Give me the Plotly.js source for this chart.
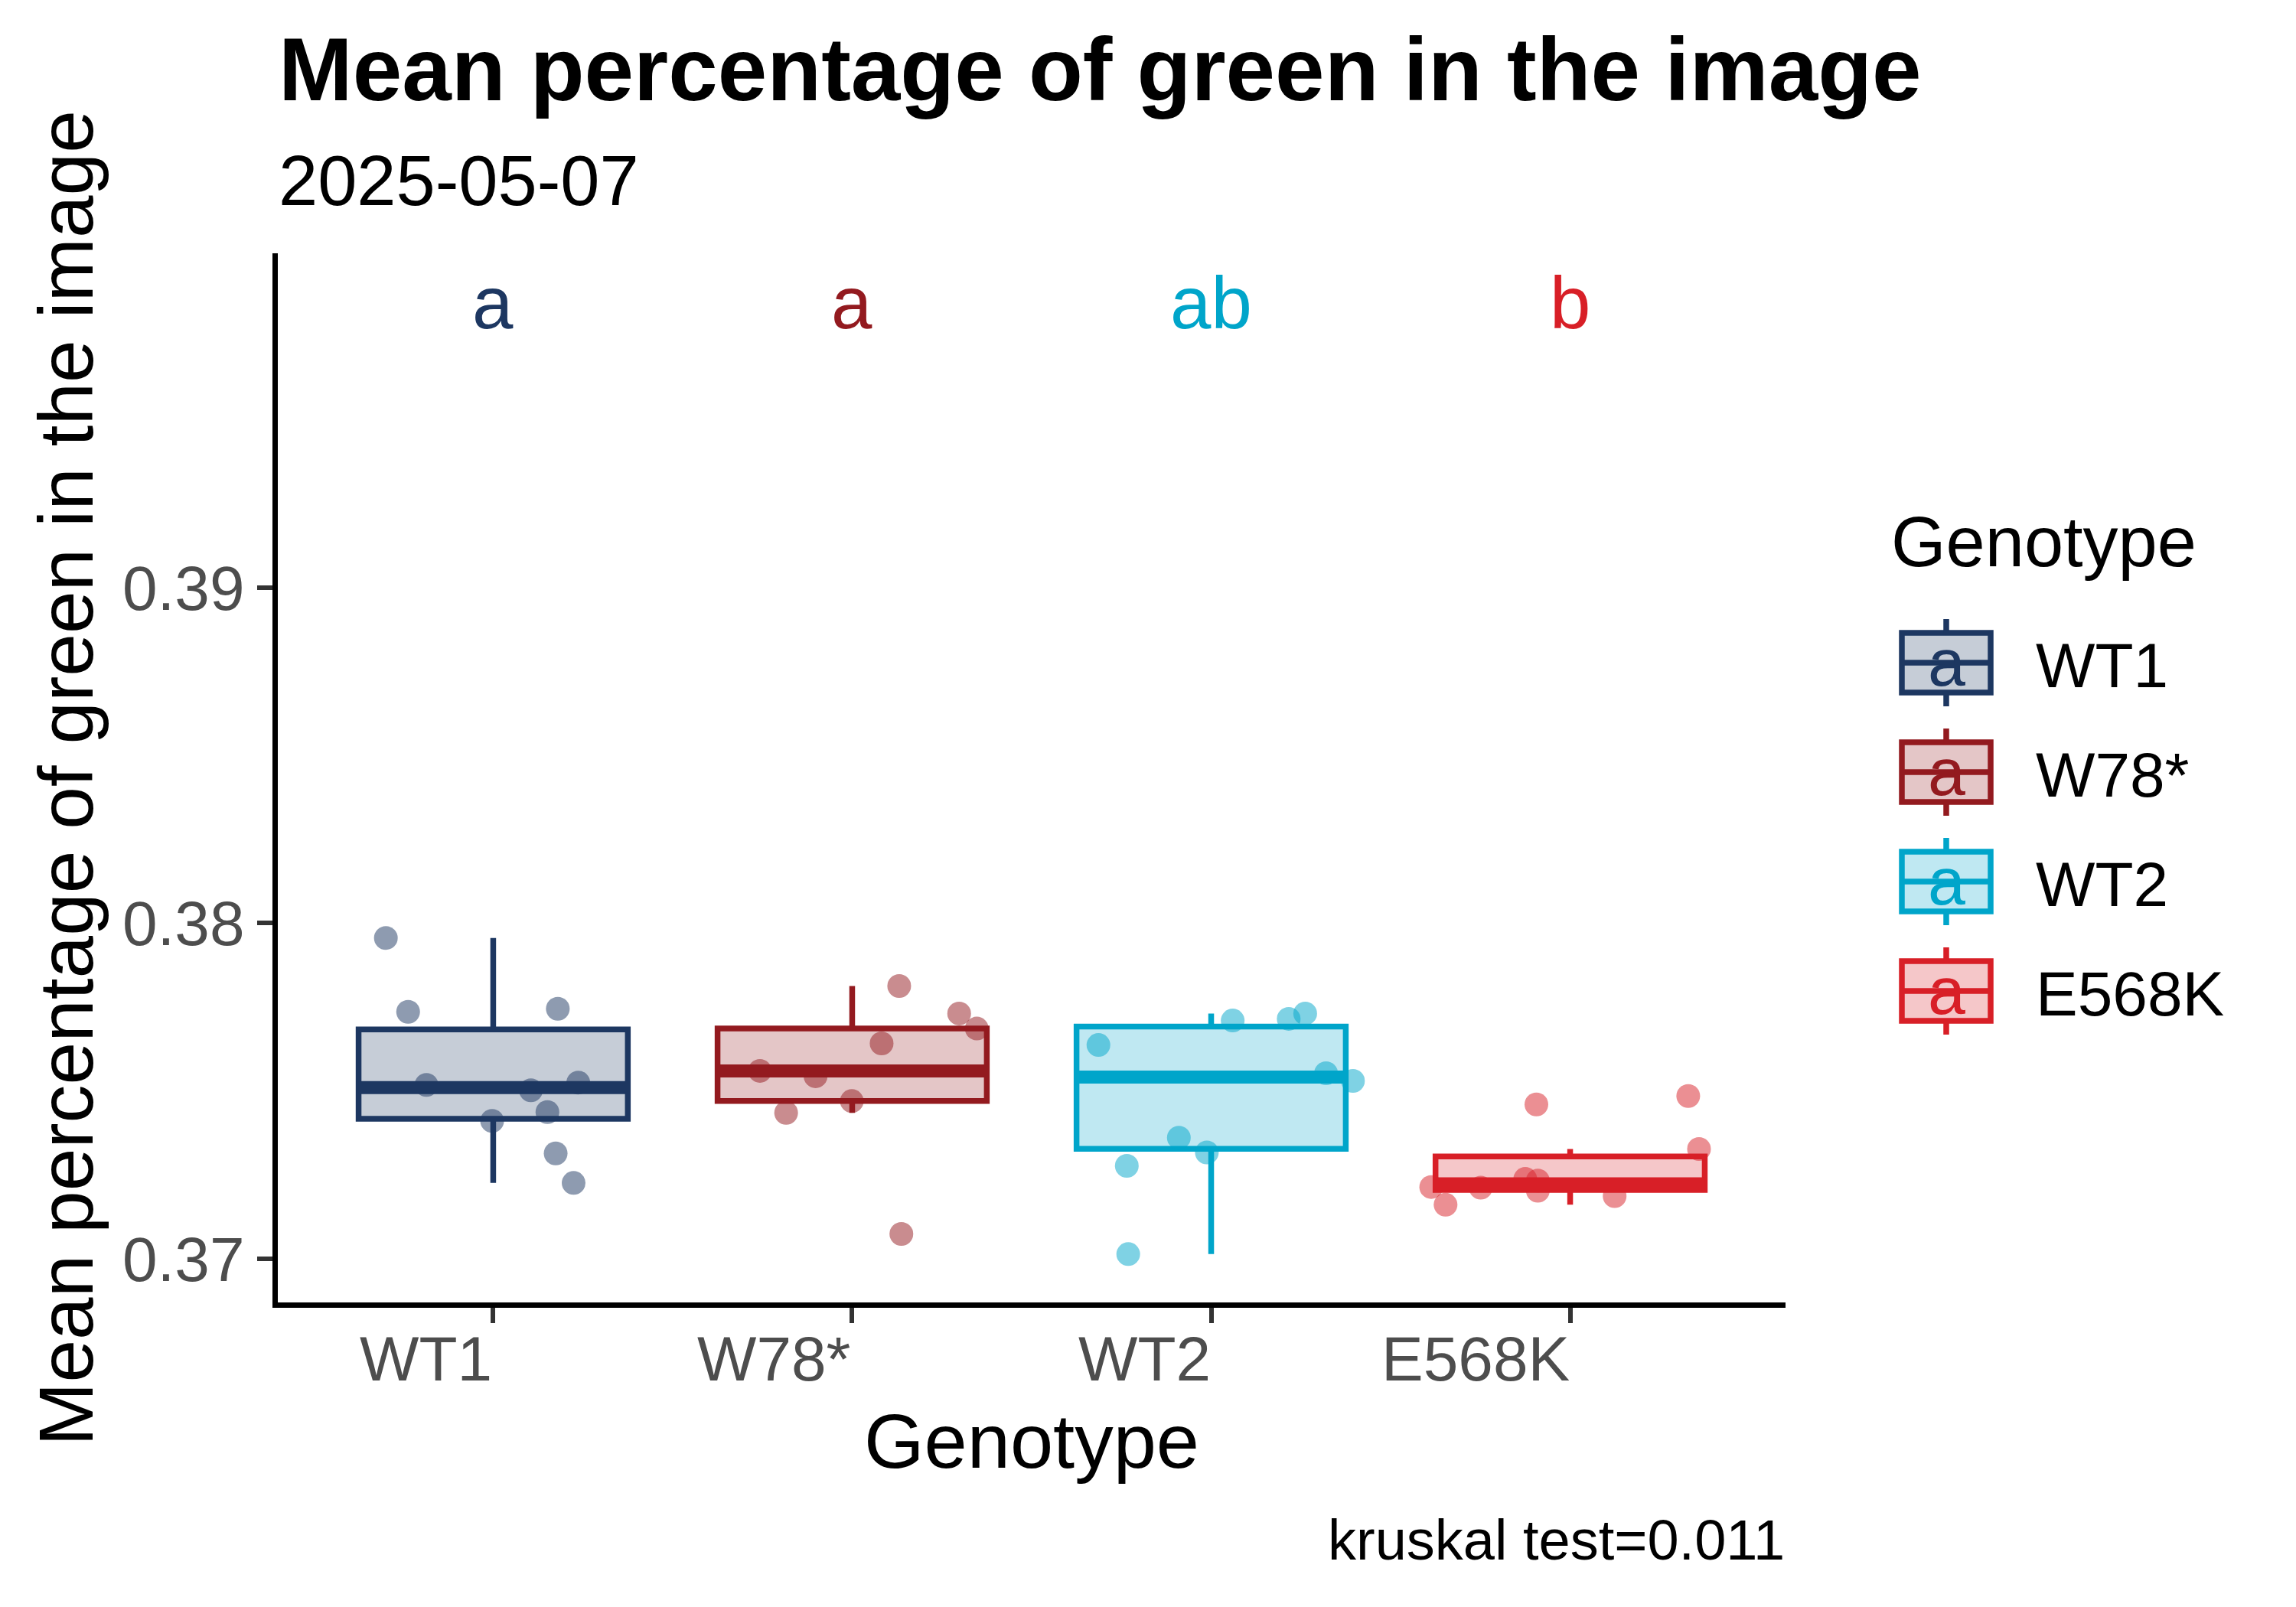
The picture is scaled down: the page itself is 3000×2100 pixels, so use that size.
<!DOCTYPE html>
<html>
<head>
<meta charset="utf-8">
<script src="https://cdn.plot.ly/plotly-3.0.1.min.js"></script>
<style>
  html, body { margin: 0; padding: 0; background: #fff; }
  #chart { width: 3000px; height: 2100px; }
</style>
</head>
<body>
<div id="chart"></div>
<script>
// ── Data ────────────────────────────────────────────────────────────────
const genotypes   = ['WT1', 'W78*', 'WT2', 'E568K'];
const groupColors = ['#1D3761', '#931A1F', '#00A5CA', '#D81F27'];
const cldLetters  = ['a', 'a', 'ab', 'b'];

const wt1Values   = [0.37956, 0.37736, 0.37745, 0.37518, 0.37502, 0.37525, 0.37411, 0.37437, 0.37314, 0.37226];
const wt1Jitter   = [-0.299, -0.237, 0.180, -0.186, 0.105, 0.237, -0.003, 0.151, 0.174, 0.224];

const w78Values   = [0.37813, 0.37731, 0.37686, 0.37642, 0.37560, 0.37544, 0.37470, 0.37435, 0.37074];
const w78Jitter   = [0.131, 0.298, 0.347, 0.082, -0.257, -0.102, -0.001, -0.184, 0.137];

const wt2Values   = [0.37637, 0.37710, 0.37715, 0.37731, 0.37553, 0.37530, 0.37361, 0.37317, 0.37277, 0.37014];
const wt2Jitter   = [-0.314, 0.060, 0.216, 0.262, 0.320, 0.395, -0.090, -0.012, -0.235, -0.231];

const e568kValues = [0.37460, 0.37485, 0.37327, 0.37214, 0.37161, 0.37212, 0.37238, 0.37233, 0.37203, 0.37187];
const e568kJitter = [-0.094, 0.329, 0.359, -0.387, -0.347, -0.249, -0.125, -0.090, -0.090, 0.124];

const yTickVals = [0.37, 0.38, 0.39];
const yTickText = ['0.37', '0.38', '0.39'];

const titleText    = 'Mean percentage of green in the image';
const subtitleText = '2025-05-07';
const yTitleText   = 'Mean percentage of green in the image';
const xTitleText   = 'Genotype';
const legendTitle  = 'Genotype';
const captionText  = 'kruskal test=0.011';
const keyGlyph     = 'a';

const groupValues = [wt1Values, w78Values, wt2Values, e568kValues];
const groupJitter = [wt1Jitter, w78Jitter, wt2Jitter, e568kJitter];

// ── Layout geometry (pixels in the 3000x2100 page) ────────────────────────
const W = 3000, H = 2100;
const P = { l: 363, r: 2333, t: 331, b: 1702 };
const FONT = '"Liberation Sans", Arial, sans-serif';
const BOX_W = 0.75;

const px2x = p => (p - P.l) / (P.r - P.l);
const px2y = p => (P.b - p) / (P.b - P.t);
// centre of a one-line text box given its baseline and font size
const mid = (base, size) => base - 0.3465 * size;

function rgba(hex, a) {
    const n = parseInt(hex.slice(1), 16);
    return `rgba(${(n >> 16) & 255},${(n >> 8) & 255},${n & 255},${a})`;
}

// ggplot-style (type 7) quantiles and 1.5 IQR whiskers
function quantile7(s, p) {
    const h = (s.length - 1) * p;
    const lo = Math.floor(h), hi = Math.ceil(h);
    return s[lo] + (h - lo) * (s[hi] - s[lo]);
}
function boxStats(vals) {
    const s = [...vals].sort((a, b) => a - b);
    const q1 = quantile7(s, 0.25), med = quantile7(s, 0.5), q3 = quantile7(s, 0.75);
    const iqr = q3 - q1;
    const lo = s.find(v => v >= q1 - 1.5 * iqr);
    const hi = [...s].reverse().find(v => v <= q3 + 1.5 * iqr);
    return { q1, med, q3, lo, hi };
}

// ── Traces ──────────────────────────────────────────────────────────────
const traces = [];
const medians = [];

genotypes.forEach((g, i) => {
    const k = i + 1;
    const c = groupColors[i];
    const st = boxStats(groupValues[i]);
    medians.push(st.med);
    traces.push({
        type: 'box', name: g,
        x: [k], q1: [st.q1], median: [st.med], q3: [st.q3],
        lowerfence: [st.lo], upperfence: [st.hi],
        width: BOX_W, whiskerwidth: 0, boxpoints: false,
        fillcolor: rgba(c, 0.25),
        line: { color: c, width: 7.5 },
        hoverinfo: 'skip', showlegend: false
    });
});

genotypes.forEach((g, i) => {
    const k = i + 1;
    traces.push({
        type: 'scatter', mode: 'markers', name: g,
        x: groupJitter[i].map(j => k + j),
        y: groupValues[i],
        marker: { size: 31, color: groupColors[i], opacity: 0.5, line: { width: 0 } },
        hoverinfo: 'y', showlegend: false
    });
});

// thick median bars drawn on top (fatten)
genotypes.forEach((g, i) => {
    const k = i + 1;
    traces.push({
        type: 'scatter', mode: 'lines',
        x: [k - BOX_W / 2, k + BOX_W / 2],
        y: [medians[i], medians[i]],
        line: { color: groupColors[i], width: 17 },
        hoverinfo: 'skip', showlegend: false
    });
});

// ── Annotations & legend shapes ─────────────────────────────────────────
const annotations = [];
const shapes = [];
const ann = (o) => annotations.push(Object.assign({ showarrow: false, borderpad: 0 }, o));

ann({ text: `<b>${titleText}</b>`, xref: 'paper', yref: 'paper', x: 0, y: px2y(mid(131, 116)),
      xanchor: 'left', yanchor: 'middle', font: { family: FONT, size: 116, color: '#000' } });
ann({ text: subtitleText, xref: 'paper', yref: 'paper', x: 0, y: px2y(mid(267.7, 92)),
      xanchor: 'left', yanchor: 'middle', font: { family: FONT, size: 92, color: '#000' } });
ann({ text: yTitleText, xref: 'paper', yref: 'paper', x: px2x(mid(120, 100)), y: 0.5, textangle: -90,
      xanchor: 'center', yanchor: 'middle', font: { family: FONT, size: 100, color: '#000' } });
ann({ text: xTitleText, xref: 'paper', yref: 'paper', x: 0.5, y: px2y(mid(1918, 101)),
      xanchor: 'center', yanchor: 'middle', font: { family: FONT, size: 101, color: '#000' } });
ann({ text: captionText, xref: 'paper', yref: 'paper', x: 1, y: px2y(mid(2038, 74)),
      xanchor: 'right', yanchor: 'middle', font: { family: FONT, size: 74, color: '#000' } });

genotypes.forEach((g, i) => {
    const k = i + 1;
    // x tick labels, right-aligned on the tick
    ann({ text: g, xref: 'x', yref: 'paper', x: k, y: px2y(mid(1804, 82)),
          xanchor: 'right', yanchor: 'middle', font: { family: FONT, size: 82, color: '#4D4D4D' } });
    // compact letter display
    ann({ text: cldLetters[i], xref: 'x', yref: 'paper', x: k, y: px2y(mid(428.3, 96)),
          xanchor: 'center', yanchor: 'middle', font: { family: FONT, size: 96, color: groupColors[i] } });
});

// legend
ann({ text: legendTitle, xref: 'paper', yref: 'paper', x: px2x(2470), y: px2y(mid(740, 92)),
      xanchor: 'left', yanchor: 'middle', font: { family: FONT, size: 92, color: '#000' } });

const KEY = { x0: 2485, x1: 2601, xc: 2543, half: 39, whisk: 57 };
genotypes.forEach((g, i) => {
    const yc = 866 + 143 * i;
    const c = groupColors[i];
    const base = { xref: 'paper', yref: 'paper', line: { color: c, width: 7.5 } };
    shapes.push(Object.assign({ type: 'rect', x0: px2x(KEY.x0), x1: px2x(KEY.x1),
        y0: px2y(yc + KEY.half), y1: px2y(yc - KEY.half), fillcolor: rgba(c, 0.25) }, base));
    shapes.push(Object.assign({ type: 'line', x0: px2x(KEY.x0), x1: px2x(KEY.x1),
        y0: px2y(yc), y1: px2y(yc) }, base));
    shapes.push(Object.assign({ type: 'line', x0: px2x(KEY.xc), x1: px2x(KEY.xc),
        y0: px2y(yc - KEY.whisk), y1: px2y(yc - KEY.half) }, base));
    shapes.push(Object.assign({ type: 'line', x0: px2x(KEY.xc), x1: px2x(KEY.xc),
        y0: px2y(yc + KEY.half), y1: px2y(yc + KEY.whisk) }, base));
    ann({ text: keyGlyph, xref: 'paper', yref: 'paper', x: px2x(KEY.xc), y: px2y(mid(yc + 30, 88)),
          xanchor: 'center', yanchor: 'middle', font: { family: FONT, size: 88, color: c } });
    ann({ text: g, xref: 'paper', yref: 'paper', x: px2x(2659), y: px2y(mid(yc + 31.5, 82)),
          xanchor: 'left', yanchor: 'middle', font: { family: FONT, size: 82, color: '#000' } });
});

// ── Layout ──────────────────────────────────────────────────────────────
const layout = {
    width: W, height: H,
    margin: { l: P.l, r: W - P.r, t: P.t, b: H - P.b, pad: 0 },
    paper_bgcolor: '#fff', plot_bgcolor: '#fff',
    font: { family: FONT, color: '#000' },
    showlegend: false,
    boxmode: 'overlay',
    xaxis: {
        range: [0.4, 4.6], tickvals: [1, 2, 3, 4], showticklabels: false,
        showline: true, linecolor: '#000', linewidth: 7,
        ticks: 'outside', ticklen: 20, tickwidth: 6, tickcolor: '#333333',
        showgrid: false, zeroline: false, fixedrange: true
    },
    yaxis: {
        range: [0.3687, 0.39996], tickvals: yTickVals, ticktext: yTickText,
        tickfont: { family: FONT, size: 82, color: '#4D4D4D' },
        showline: true, linecolor: '#000', linewidth: 7,
        ticks: 'outside', ticklen: 20, tickwidth: 6, tickcolor: '#333333',
        showgrid: false, zeroline: false, fixedrange: true
    },
    annotations: annotations,
    shapes: shapes
};

Plotly.newPlot('chart', traces, layout, { staticPlot: true, displayModeBar: false });
</script>
</body>
</html>
